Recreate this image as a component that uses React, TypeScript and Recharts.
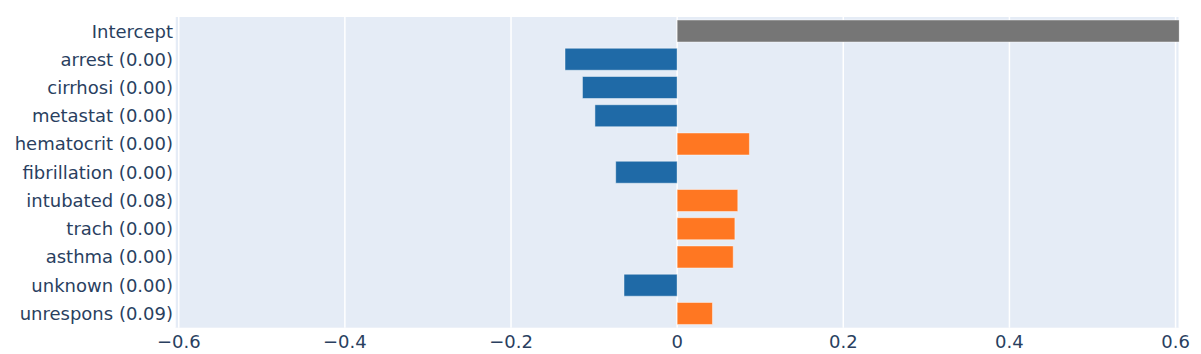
import React from 'react';
import { BarChart, Bar, XAxis, YAxis, CartesianGrid, Cell } from 'recharts';

// features top to bottom, Intercept first
const features = [
  'Intercept',
  'arrest (0.00)',
  'cirrhosi (0.00)',
  'metastat (0.00)',
  'hematocrit (0.00)',
  'fibrillation (0.00)',
  'intubated (0.08)',
  'trach (0.00)',
  'asthma (0.00)',
  'unknown (0.00)',
  'unrespons (0.09)',
];

const weights = [0.6045, -0.135, -0.114, -0.099, 0.087, -0.074, 0.073, 0.0695, 0.0675, -0.064, 0.0425];

const xTicks = [-0.6, -0.4, -0.2, 0, 0.2, 0.4, 0.6];

const data = features.map((name, i) => ({ name, weight: weights[i] }));

const textColor = '#2a3f5f';
const font = '"DejaVu Sans", Verdana, sans-serif';

const barColor = (name: string, v: number) => {
  if (name === 'Intercept') return '#767676';
  return v < 0 ? '#1f6aa7' : '#ff7722';
};

const fmtTick = (v: number) => {
  if (v === 0) return '0';
  const s = Math.abs(v).toFixed(1);
  return v < 0 ? '\u2212' + s : s;
};

const App: React.FC = () => {
  return (
    <div style={{ position: 'fixed', left: 0, top: 0, width: 1201, height: 354, background: '#fff' }}>
      <BarChart
        width={1201}
        height={354}
        data={data}
        layout="vertical"
        margin={{ top: 17, right: 21.7, bottom: 0, left: 0 }}
      >
        <CartesianGrid horizontal={false} stroke="#ffffff" strokeWidth={1.5} fill="#E5ECF6" />
        <XAxis
          type="number"
          domain={[-0.6045, 0.6045]}
          ticks={xTicks}
          tickFormatter={fmtTick}
          allowDataOverflow
          axisLine={false}
          tickLine={false}
          tickSize={0}
          tickMargin={8}
          height={26.3}
          tick={{ fill: textColor, fontSize: 18, fontFamily: font }}
        />
        <YAxis
          type="category"
          dataKey="name"
          width={175}
          axisLine={false}
          tickLine={false}
          tickSize={0}
          tickMargin={2}
          interval={0}
          tick={{ fill: textColor, fontSize: 18, fontFamily: font }}
        />
        <Bar dataKey="weight" barSize={22} isAnimationActive={false} stroke="rgba(255,255,255,0.45)" strokeWidth={1}>
          {data.map((d) => (
            <Cell key={d.name} fill={barColor(d.name, d.weight)} />
          ))}
        </Bar>
      </BarChart>
    </div>
  );
};

export default App;
